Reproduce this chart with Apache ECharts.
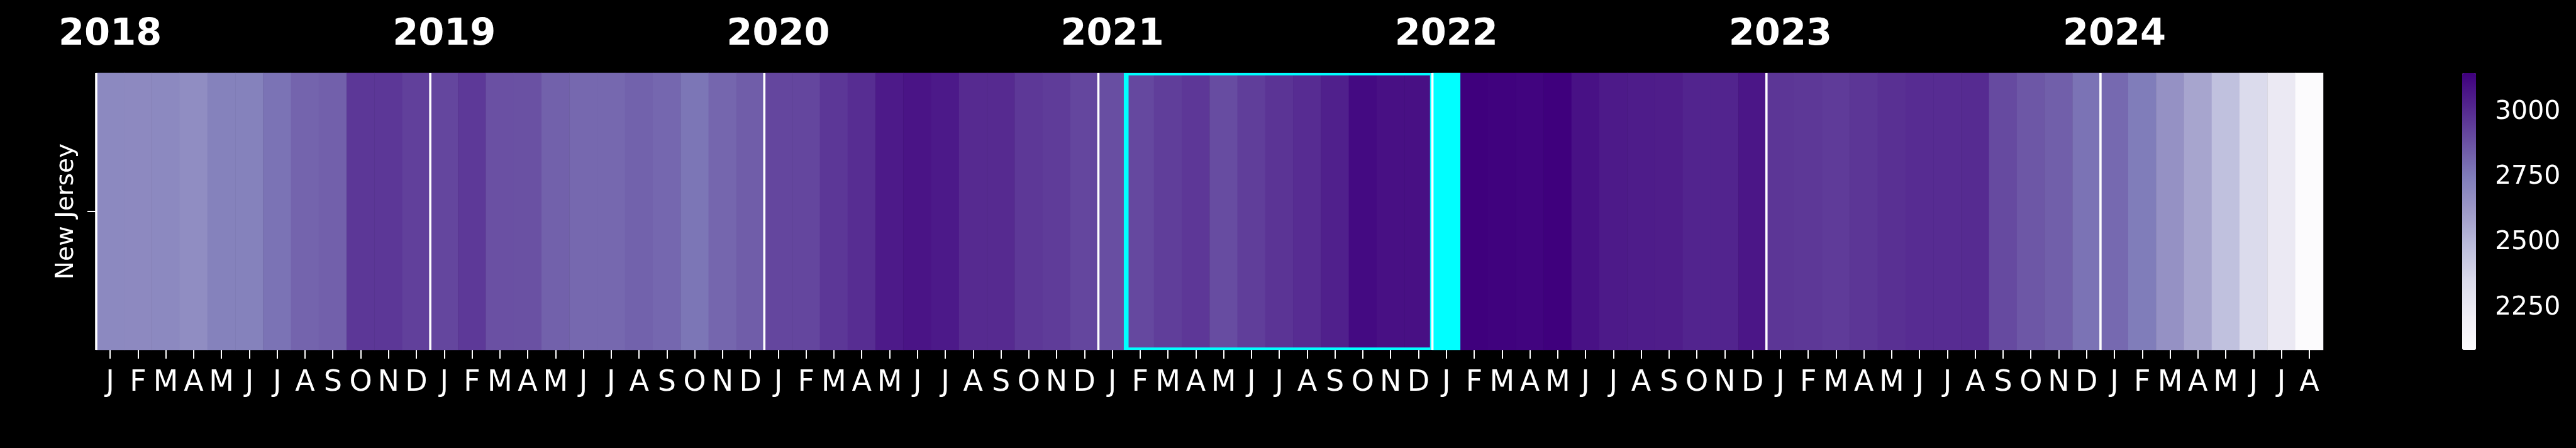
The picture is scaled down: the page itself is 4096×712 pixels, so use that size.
<!DOCTYPE html>
<html>
<head>
<meta charset="utf-8">
<script src="https://cdn.jsdelivr.net/npm/echarts@6/dist/echarts.min.js"></script>
<style>
html,body{margin:0;padding:0;background:#000;}
#chart{width:4096px;height:712px;}
</style>
</head>
<body>
<div id="chart"></div>
<script>
// ---- data ----
const years = ['2018', '2019', '2020', '2021', '2022', '2023', '2024'];
const monthLetters = ['J','F','M','A','M','J','J','A','S','O','N','D'];
const rowLabels = ['New Jersey'];
const v2018 = [2697, 2695, 2697, 2680, 2729, 2729, 2782, 2827, 2839, 2966, 2966, 2938];
const v2019 = [2919, 2960, 2887, 2883, 2836, 2815, 2815, 2834, 2818, 2773, 2821, 2848];
const v2020 = [2919, 2919, 2966, 2998, 3061, 3081, 3064, 3007, 3007, 2963, 2950, 2919];
const v2021 = [2894, 2913, 2944, 2965, 2900, 2944, 2976, 3000, 3040, 3115, 3095, 3095];
const v2022 = ['-', 3149, 3143, 3135, 3149, 3091, 3061, 3054, 3051, 3027, 3027, 3074];
const v2023 = [2970, 2963, 2953, 2969, 2988, 3000, 3000, 3004, 2906, 2866, 2842, 2782];
const v2024 = [2812, 2752, 2661, 2578, 2469, 2347, 2250, 2090];
const highlightMonth = '2022-01';
const highlightValue = 3149;
const boxRange = ['2021-02', '2021-12'];
const colorbarTicks = [2250, 2500, 2750, 3000];
const vMin = 2090, vMax = 3149;
const purples = ['#fcfbfd','#efedf5','#dadaeb','#bcbddc','#9e9ac8','#807dba','#6a51a3','#54278f','#3f007d'];

// ---- build ----
const yearValues = [v2018, v2019, v2020, v2021, v2022, v2023, v2024];
const cats = [];
const values = [];
years.forEach((y, yi) => {
  yearValues[yi].forEach((v, mi) => {
    cats.push(y + '-' + String(mi + 1).padStart(2, '0'));
    values.push(v);
  });
});
const heatData = cats.map((c, i) => [i, 0, values[i]]);
const font = 'DejaVu Sans';

const chart = echarts.init(document.getElementById('chart'), null, {renderer: 'canvas'});
chart.setOption({
  backgroundColor: '#000000',
  animation: false,
  grid: [
    {left: 153, top: 116, width: 3541, height: 440},
    {left: 3915, top: 116, width: 22, height: 440}
  ],
  xAxis: [
    {
      type: 'category', gridIndex: 0, data: cats, position: 'bottom',
      axisLine: {show: false},
      axisTick: {show: true, alignWithLabel: true, interval: 0, length: 14, lineStyle: {color: '#fff', width: 2}},
      axisLabel: {interval: 0, color: '#fff', fontSize: 46, fontFamily: font, margin: 30,
        formatter: v => monthLetters[parseInt(v.slice(5), 10) - 1]},
      splitLine: {show: false}
    },
    {
      type: 'category', gridIndex: 0, data: cats, position: 'top',
      axisLine: {show: false}, axisTick: {show: false},
      axisLabel: {interval: (i, v) => v.endsWith('-01'), color: '#fff', fontSize: 59, fontWeight: 'bold',
        fontFamily: font, margin: 31, formatter: v => v.slice(0, 4)},
      splitLine: {show: false}
    },
    {type: 'value', gridIndex: 1, show: false, min: 0, max: 1}
  ],
  yAxis: [
    {
      type: 'category', gridIndex: 0, data: rowLabels,
      axisLine: {show: false},
      axisTick: {show: true, alignWithLabel: true, length: 14, lineStyle: {color: '#fff', width: 2}},
      axisLabel: {rotate: 90, color: '#fff', fontSize: 39, fontFamily: font, margin: 28},
      splitLine: {show: false}
    },
    {
      type: 'value', gridIndex: 1, position: 'right', min: vMin, max: vMax,
      axisLine: {show: false}, splitLine: {show: false},
      axisTick: {show: true, customValues: colorbarTicks, length: 15, lineStyle: {color: '#fff', width: 2}},
      axisLabel: {show: true, customValues: colorbarTicks, color: '#fff', fontSize: 41, fontFamily: font, margin: 30,
        formatter: v => String(v)}
    }
  ],
  visualMap: {
    type: 'continuous', min: vMin, max: vMax, seriesIndex: 0, dimension: 2,
    inRange: {color: purples},
    left: 3915, top: 116, itemWidth: 22, itemHeight: 440, padding: 0,
    calculable: false, hoverLink: false, text: null, showLabel: false
  },
  series: [
    {
      type: 'heatmap', xAxisIndex: 0, yAxisIndex: 0, data: heatData,
      itemStyle: {borderWidth: 0}, emphasis: {disabled: true}, progressive: 0
    },
    {
      type: 'heatmap', xAxisIndex: 0, yAxisIndex: 0,
      data: [[cats.indexOf(highlightMonth), 0, highlightValue]],
      itemStyle: {color: '#00ffff', borderWidth: 0}, emphasis: {disabled: true}
    },
    {
      type: 'custom', xAxisIndex: 0, yAxisIndex: 0, clip: true, z: 5,
      data: [[boxRange[0], boxRange[1], rowLabels[0]]],
      encode: {x: [0, 1], y: 2},
      renderItem: (params, api) => {
        const cs = params.coordSys;
        const a = api.coord([api.value(0), 0]);
        const b = api.coord([api.value(1), 0]);
        const w = api.size([1, 0])[0];
        const x1 = a[0] - w / 2, x2 = b[0] + w / 2;
        return {type: 'rect', shape: {x: x1, y: cs.y, width: x2 - x1, height: cs.height},
          style: {fill: 'none', stroke: '#00ffff', lineWidth: 7.6}};
      }
    },
    {
      type: 'custom', xAxisIndex: 0, yAxisIndex: 0, z: 6,
      data: years.map(y => [y + '-01', rowLabels[0]]),
      encode: {x: 0, y: 1},
      renderItem: (params, api) => {
        const cs = params.coordSys;
        const a = api.coord([api.value(0), 0]);
        const w = api.size([1, 0])[0];
        const x = a[0] - w / 2;
        return {type: 'line', shape: {x1: x, y1: cs.y, x2: x, y2: cs.y + cs.height},
          style: {stroke: '#ffffff', lineWidth: 3.6}};
      }
    }
  ]
});
</script>
</body>
</html>
